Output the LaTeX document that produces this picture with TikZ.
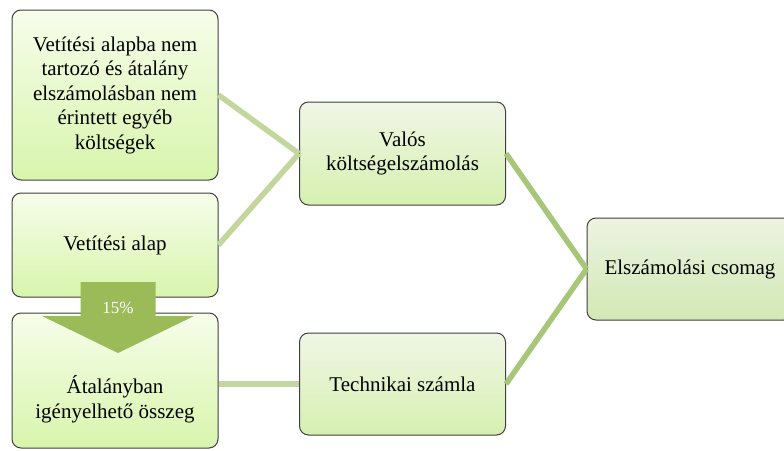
\documentclass[tikz,border=0pt]{standalone}
\usepackage{fontspec}
\setmainfont{Liberation Serif}
\definecolor{ltop}{RGB}{246,253,234}
\definecolor{lbot}{RGB}{216,245,172}
\definecolor{mtop}{RGB}{240,246,230}
\definecolor{mbot}{RGB}{214,240,176}
\definecolor{etop}{RGB}{236,243,226}
\definecolor{ebot}{RGB}{210,232,180}
\definecolor{connL}{RGB}{195,214,158}
\definecolor{connR}{RGB}{168,198,120}
\definecolor{arrowc}{RGB}{155,187,89}
\definecolor{edge}{RGB}{64,64,64}
\begin{document}
\begin{tikzpicture}[x=1pt,y=-1pt,
  box/.style={draw=edge, line width=1pt, rounded corners=9pt, align=center,
    font=\fontsize{21}{24.5}\selectfont, inner sep=0pt, minimum width=206pt},
  leftbox/.style={box, top color=ltop, bottom color=lbot},
  midbox/.style={box, top color=mtop, bottom color=mbot},
  endbox/.style={box, top color=etop, bottom color=ebot},
  lbl/.style={align=center, font=\fontsize{21}{24.5}\selectfont, inner sep=0pt},
  connl/.style={line width=5.5pt, draw=connL},
  connr/.style={line width=5.5pt, draw=connR}]
\clip (0,0) rectangle (784,450);
\fill[white] (0,0) rectangle (784,450);
% boxes
\node[leftbox, minimum height=170pt] (b1) at (115,95)
  {Vetítési alapba nem\\tartozó és átalány\\elszámolásban nem\\érintett egyéb\\költségek};
\node[leftbox, minimum height=104pt] (b2) at (115,245) {Vetítési alap};
\node[leftbox, minimum height=135pt] (b3) at (115,380.5) {};
\node[lbl] (b3t) at (115,399) {Átalányban\\igényelhető összeg};
\node[midbox, minimum height=103pt] (valos) at (402.5,153.5) {Valós\\költségelszámolás};
\node[midbox, minimum height=102pt] (tech) at (402.5,384) {Technikai számla};
\node[endbox, minimum height=102pt] (elsz) at (690,269) {Elszámolási csomag};
% connectors
\draw[connl] (b1.east) -- (valos.west);
\draw[connl] (b2.east) -- (valos.west);
\draw[connl] (b3.east |- tech.west) -- (tech.west);
\draw[connr] (valos.east) -- (elsz.west);
\draw[connr] (tech.east) -- (elsz.west);
% 15% arrow
\fill[arrowc] (80.5,282) -- (155.5,282) -- (155.5,316) -- (194,316) -- (118,353)
  -- (42,316) -- (80.5,316) -- cycle;
\node[text=white, font=\fontsize{17}{20}\selectfont, inner sep=0pt] (pct) at (118,308) {15\%};
\end{tikzpicture}
\end{document}
